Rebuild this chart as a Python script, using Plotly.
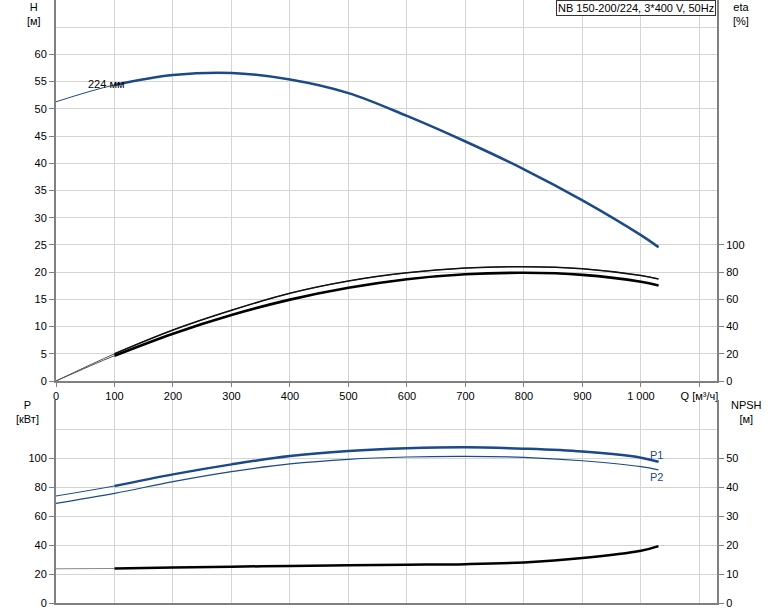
import plotly.graph_objects as go

# ---------------- data ----------------
Q = [0, 100, 200, 300, 400, 500, 600, 700, 800, 900, 1000, 1030]
H = [51.3, 54.4, 56.2, 56.6, 55.4, 52.9, 48.7, 44.0, 38.9, 33.2, 26.8, 24.6]
ETA_UP = [0, 20.0, 37.5, 52.0, 64.5, 73.5, 79.5, 83.0, 84.0, 82.5, 77.5, 75.0]
ETA_LO = [0, 18.6, 34.8, 48.5, 59.8, 68.5, 74.8, 78.5, 79.5, 78.0, 73.0, 70.2]
P1 = [73.8, 80.7, 88.7, 95.6, 101.4, 104.8, 106.7, 107.4, 106.4, 104.4, 100.2, 97.4]
P2 = [68.7, 75.6, 83.7, 90.6, 95.9, 99.1, 100.7, 101.1, 100.5, 98.1, 94.0, 91.8]
NPSH = [11.8, 11.9, 12.2, 12.5, 12.8, 13.0, 13.2, 13.4, 14.0, 15.5, 18.0, 19.6]

X_TICKS = [0, 100, 200, 300, 400, 500, 600, 700, 800, 900, 1000, 1100]
X_TEXT = ["0", "100", "200", "300", "400", "500", "600", "700", "800", "900", "1 000", "Q [м³/ч]"]
H_TICKS = [0, 5, 10, 15, 20, 25, 30, 35, 40, 45, 50, 55, 60]
ETA_TICKS = [0, 20, 40, 60, 80, 100]
P_TICKS = [0, 20, 40, 60, 80, 100]
NPSH_TICKS = [0, 10, 20, 30, 40, 50]
TITLE = "NB 150-200/224, 3*400 V, 50Hz"

# ---------------- style ----------------
W, HH = 774, 611
BLUE = "#1b4a8a"
GRID = "#d4d4d4"
AX = "#808080"
FONT = dict(family="Liberation Sans, Arial, sans-serif", size=11, color="#000")

def px(x):
    return x / W

def py(y):
    return 1 - y / HH

xd = [px(56), px(717)]

fig = go.Figure()

def add(x, y, xa, ya, color, width, shape="spline"):
    fig.add_trace(go.Scatter(x=x, y=y, xaxis=xa, yaxis=ya, mode="lines",
                             line=dict(color=color, width=width, shape=shape, smoothing=1.0),
                             hoverinfo="skip", showlegend=False))

# H curve
add(Q, H, "x", "y", BLUE, 1)
add(Q[1:], H[1:], "x", "y", BLUE, 2.5)
# eta curves
add(Q, ETA_UP, "x", "y2", "#555", 1)
add(Q[1:], ETA_UP[1:], "x", "y2", "#111", 1.6)
add(Q, ETA_LO, "x", "y2", "#555", 1)
add(Q[1:], ETA_LO[1:], "x", "y2", "#000", 2.6)
# power curves
add(Q, P1, "x2", "y3", BLUE, 1)
add(Q[1:], P1[1:], "x2", "y3", BLUE, 2.5)
add(Q, P2, "x2", "y3", BLUE, 1.2)
# NPSH
add(Q[:2], NPSH[:2], "x2", "y4", "#888", 1)
add(Q[1:], NPSH[1:], "x2", "y4", "#000", 2.5)

common_x = dict(range=[0, 1130], domain=xd, showgrid=True, gridcolor=GRID, gridwidth=1,
                zeroline=False, showline=True, linecolor=AX, linewidth=2,
                tickvals=X_TICKS, tickfont=FONT, automargin=False)

common_y = dict(showline=True, linecolor=AX, linewidth=2, zeroline=False,
                ticks="outside", ticklen=5, tickcolor=AX, tickfont=FONT, automargin=False)

fig.update_layout(
    width=W, height=HH, margin=dict(l=0, r=0, t=0, b=0),
    paper_bgcolor="white", plot_bgcolor="white", font=FONT,
    xaxis=dict(common_x, anchor="y", ticktext=X_TEXT, ticks="outside", ticklen=4, tickcolor=AX,
               minor=dict(tickvals=[1100], showgrid=True, gridcolor=GRID)),
    xaxis2=dict(common_x, anchor="y3", showticklabels=False, ticks="", matches="x"),
    yaxis=dict(common_y, domain=[py(381), 1.0], range=[0, 70], tickvals=H_TICKS, showgrid=True,
               gridcolor=GRID, anchor="x",
               minor=dict(tickvals=[65], showgrid=True, gridcolor=GRID, ticks="")),
    yaxis2=dict(common_y, overlaying="y", side="right", anchor="x", range=[0, 280],
                tickvals=ETA_TICKS, showgrid=False),
    yaxis3=dict(common_y, domain=[py(603), py(400)], range=[0, 140], tickvals=P_TICKS,
                showgrid=True, gridcolor=GRID, anchor="x2",
                minor=dict(tickvals=[120], showgrid=True, gridcolor=GRID, ticks="")),
    yaxis4=dict(common_y, overlaying="y3", side="right", anchor="x2", range=[0, 70],
                tickvals=NPSH_TICKS, showgrid=False),
)

ann = []
def label(text, x, y):
    ann.append(dict(text=text, x=px(x), y=py(y), xref="paper", yref="paper",
                    showarrow=False, xanchor="center", yanchor="top", font=FONT))

label("H<br>[м]", 34, -1)
label("eta<br>[%]", 741, -1)
label("P<br>[кВт]", 27, 397)
label("NPSH<br>[м]", 746, 397)

ann.append(dict(text=TITLE, x=px(716), y=py(0), xref="paper", yref="paper", showarrow=False,
                xanchor="right", yanchor="top", bgcolor="white", bordercolor="#333",
                borderwidth=1, borderpad=1, font=FONT))
ann.append(dict(text="224 мм", x=86, y=54.5, xref="x", yref="y", showarrow=False,
                xanchor="center", yanchor="middle", font=FONT))
ann.append(dict(text="P1", x=1026, y=102, xref="x2", yref="y3", showarrow=False,
                xanchor="center", yanchor="middle", font=dict(FONT, color=BLUE)))
ann.append(dict(text="P2", x=1026, y=87, xref="x2", yref="y3", showarrow=False,
                xanchor="center", yanchor="middle", font=dict(FONT, color=BLUE)))
fig.update_layout(annotations=ann)

fig.write_html("out.html", config={"displayModeBar": False},
               post_script="document.body.style.margin='0';document.body.style.overflow='hidden';")
